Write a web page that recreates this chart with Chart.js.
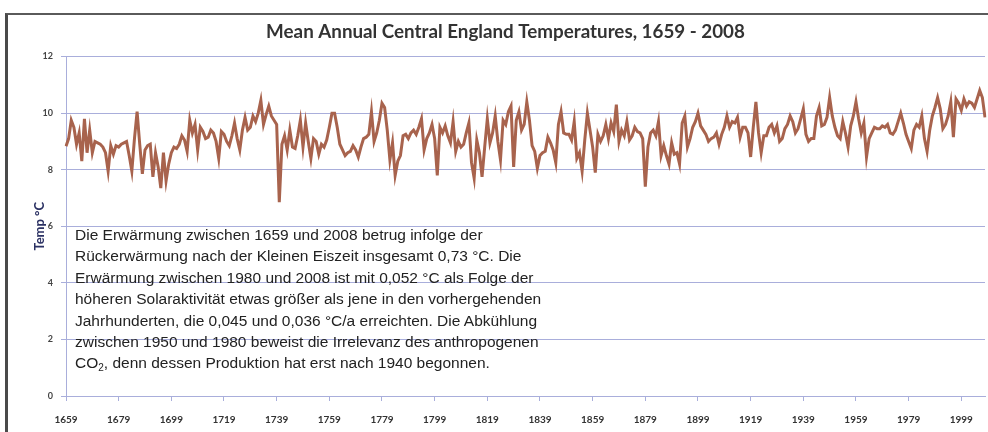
<!DOCTYPE html>
<html>
<head>
<meta charset="utf-8">
<script src="https://cdn.jsdelivr.net/npm/chart.js@4.4.0/dist/chart.umd.min.js"></script>
<style>
  html, body { margin: 0; padding: 0; background: #fff; }
  #wrap { position: relative; width: 988px; height: 432px; overflow: hidden; }
  #frame { position: absolute; left: 5px; top: 13px; width: 1000px; height: 440px;
           border-left: 3px solid #4a4a4a; border-top: 2px solid #5a5a5a; }
  #chart { position: absolute; left: 0; top: 0; }
  #note { position: absolute; left: 75px; top: 224px; color: #222;
          font: 15.5px "Liberation Sans", Arial, sans-serif; line-height: 21.4px; white-space: nowrap; }
  #note sub { font-size: 10px; vertical-align: -3px; line-height: 0; }
</style>
</head>
<body>
<div id="wrap">
  <div id="frame"></div>
  <canvas id="chart" width="988" height="432"></canvas>
  <div id="note">
    Die Erwärmung zwischen 1659 und 2008 betrug infolge der<br>
    Rückerwärmung nach der Kleinen Eiszeit insgesamt 0,73 °C. Die<br>
    Erwärmung zwischen 1980 und 2008 ist mit 0,052 °C als Folge der<br>
    höheren Solaraktivität etwas größer als jene in den vorhergehenden<br>
    Jahrhunderten, die 0,045 und 0,036 °C/a erreichten. Die Abkühlung<br>
    zwischen 1950 und 1980 beweist die Irrelevanz des anthropogenen<br>
    CO<sub>2</sub>, denn dessen Produktion hat erst nach 1940 begonnen.
  </div>
</div>
<script>
  // --- DATEN ---
  const TITLE = 'Mean Annual Central England Temperatures, 1659 - 2008';
  const FIRST_YEAR = 1659;

  // Jahresmittel (°C)
  const TEMPS = [
    8.83, 9.1, 9.75, 9.5, 8.9, 9.3, 8.3, 9.8, 8.6, 9.4,
    8.6, 9.0, 8.95, 8.9, 8.8, 8.6, 7.95, 8.85, 8.55, 8.85,
    8.8, 8.9, 8.95, 9.0, 8.5, 7.95, 9.1, 10.05, 8.9, 7.85,
    8.7, 8.85, 8.9, 7.75, 8.6, 8.1, 7.35, 8.6, 7.6, 8.2,
    8.6, 8.8, 8.75, 8.9, 9.2, 9.05, 8.65, 9.75, 9.3, 9.6,
    8.7, 9.5, 9.35, 9.1, 9.15, 9.4, 9.3, 9.0, 8.4, 9.35,
    9.25, 9.0, 8.85, 9.2, 9.65, 9.1, 8.7, 9.4, 9.85, 9.4,
    9.5, 9.9, 9.7, 10.0, 10.45, 9.6, 9.95, 10.25, 9.9, 9.75,
    9.6, 6.85, 8.9, 9.2, 8.7, 9.4, 8.8, 8.75, 9.2, 9.75,
    8.8, 9.65, 9.0, 8.4, 9.1, 9.0, 8.55, 8.9, 8.8, 9.05,
    9.5, 10.0, 10.0, 9.5, 8.9, 8.7, 8.5, 8.6, 8.65, 8.85,
    8.7, 8.45, 8.8, 9.1, 9.15, 9.25, 10.05, 9.0, 9.3, 9.75,
    10.35, 10.2, 9.4, 8.35, 8.95, 7.8, 8.3, 8.5, 9.2, 9.25,
    9.1, 9.3, 9.4, 9.25, 9.5, 9.8, 8.7, 9.1, 9.3, 9.6,
    9.1, 7.8, 9.5, 9.3, 9.55, 9.2, 8.95, 9.7, 8.65, 9.0,
    8.8, 8.9, 9.3, 9.65, 8.25, 7.7, 9.05, 8.6, 7.75, 8.8,
    9.8, 8.95, 9.3, 9.9, 9.0, 8.35, 9.75, 9.6, 10.05, 10.25,
    8.1, 9.75, 10.05, 9.4, 9.6, 10.4, 9.75, 8.85, 8.65, 8.05,
    8.5, 8.6, 8.65, 9.15, 8.95, 8.7, 8.25, 9.6, 10.05, 9.3,
    9.25, 9.25, 9.05, 9.7, 8.4, 8.6, 7.95, 9.05, 10.0, 9.4,
    8.8, 7.9, 9.25, 9.0, 9.2, 9.6, 9.1, 9.65, 9.35, 10.3,
    9.0, 9.4, 9.2, 9.7, 9.05, 9.2, 9.5, 9.35, 9.3, 9.1,
    7.4, 8.8, 9.3, 9.4, 9.2, 9.7, 8.5, 8.85, 8.5, 8.2,
    8.95, 8.55, 8.6, 8.2, 9.65, 9.9, 8.8, 9.1, 9.5, 9.7,
    10.0, 9.55, 9.4, 9.25, 9.0, 9.1, 9.15, 9.3, 8.9, 9.25,
    9.5, 9.9, 9.5, 9.7, 9.65, 9.85, 9.15, 9.5, 9.5, 9.3,
    8.45, 9.5, 10.4, 9.3, 8.6, 9.2, 9.2, 9.5, 9.6, 9.3,
    9.55, 9.0, 9.1, 9.45, 9.6, 9.9, 9.7, 9.3, 9.45, 9.8,
    10.15, 9.25, 9.0, 9.1, 9.1, 9.9, 10.2, 9.55, 9.6, 9.85,
    10.55, 9.9, 9.5, 9.2, 9.1, 9.7, 9.3, 8.8, 9.55, 9.9,
    10.4, 9.8, 9.3, 9.65, 8.45, 9.1, 9.3, 9.5, 9.45, 9.45,
    9.55, 9.5, 9.6, 9.3, 9.25, 9.4, 9.7, 10.0, 9.65, 9.25,
    9.0, 8.75, 9.4, 9.6, 9.5, 9.9, 9.1, 8.65, 9.4, 9.9,
    10.2, 10.55, 10.15, 9.45, 9.6, 9.9, 10.4, 9.15, 10.5, 10.35,
    10.1, 10.5, 10.25, 10.4, 10.35, 10.2, 10.5, 10.8, 10.55, 9.85
  ];

  const YEARS = TEMPS.map((_, i) => String(FIRST_YEAR + i));

  // Beschriftete Jahre auf der x-Achse
  const X_TICK_LABELS = ['1659', '1679', '1699', '1719', '1739', '1759', '1779', '1799', '1819',
                         '1839', '1859', '1879', '1899', '1919', '1939', '1959', '1979', '1999'];
  const Y_MIN = 0, Y_MAX = 12, Y_STEP = 2;

  const GRID = '#a9aedb';
  const LINE = '#a8634d';

  new Chart(document.getElementById('chart'), {
    type: 'line',
    data: {
      labels: YEARS,
      datasets: [{
        data: TEMPS,
        borderColor: LINE,
        borderWidth: 3,
        pointRadius: 0,
        tension: 0,
        fill: false
      }]
    },
    options: {
      responsive: false,
      animation: false,
      layout: { padding: { left: 26, right: 3, top: 0, bottom: 0 } },
      plugins: {
        legend: { display: false },
        tooltip: { enabled: false },
        title: {
          display: true,
          text: TITLE,
          color: '#333',
          font: { family: 'Lato', size: 18.8, weight: 'bold' },
          padding: { top: 21, bottom: 13 }
        }
      },
      scales: {
        x: {
          offset: false,
          grid: { drawOnChartArea: false, color: GRID, tickLength: 5 },
          border: { color: GRID },
          ticks: {
            autoSkip: false,
            maxRotation: 0,
            padding: 13,
            color: '#333',
            font: { family: 'Lato', size: 10, weight: 'bold' },
            callback(v) {
              const l = this.getLabelForValue(v);
              return X_TICK_LABELS.includes(l) ? l : null;
            }
          },
          afterFit(s) { s.height = 36; }
        },
        y: {
          min: Y_MIN,
          max: Y_MAX,
          grid: { color: GRID, tickLength: 5 },
          border: { color: GRID },
          ticks: {
            stepSize: Y_STEP,
            padding: 8,
            color: '#444',
            font: { family: 'Lato', size: 9, weight: 'bold' }
          },
          title: {
            display: true,
            text: 'Temp °C',
            color: '#2b3163',
            font: { family: 'Lato', size: 13, weight: 'bold' },
            padding: { top: 6, bottom: 0 }
          },
          afterFit(s) { s.width = 40; }
        }
      }
    }
  });
</script>
</body>
</html>
